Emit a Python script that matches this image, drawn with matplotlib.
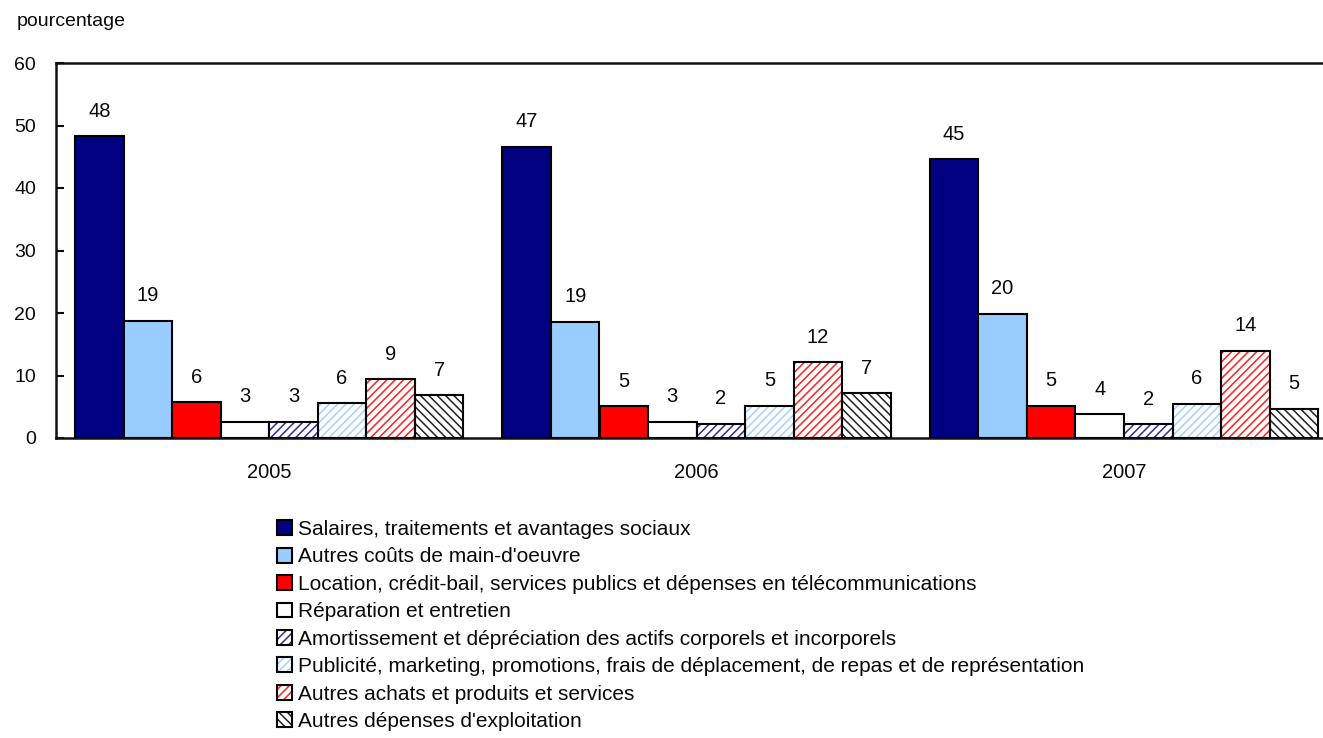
import matplotlib
matplotlib.use("Agg")
import matplotlib.pyplot as plt
from matplotlib.patches import Patch
import numpy as np

plt.rcParams['font.family'] = ['Liberation Sans', 'DejaVu Sans']
plt.rcParams['hatch.linewidth'] = 1.1

years = ["2005", "2006", "2007"]
categories = [
    "Salaires, traitements et avantages sociaux",
    "Autres coûts de main-d'oeuvre",
    "Location, crédit-bail, services publics et dépenses en télécommunications",
    "Réparation et entretien",
    "Amortissement et dépréciation des actifs corporels et incorporels",
    "Publicité, marketing, promotions, frais de déplacement, de repas et de représentation",
    "Autres achats et produits et services",
    "Autres dépenses d'exploitation",
]
values_2005 = [48.3, 18.8, 5.7, 2.6, 2.6, 5.6, 9.4, 6.9]
values_2006 = [46.6, 18.6, 5.1, 2.6, 2.3, 5.2, 12.1, 7.2]
values_2007 = [44.6, 19.9, 5.2, 3.8, 2.2, 5.5, 14.0, 4.7]

# fill colour, hatch pattern and hatch line colour per series
face_colors = ["#000080", "#99CCFF", "#FF0000", "#FFFFFF",
               "#FFFFFF", "#FFFFFF", "#FFFFFF", "#FFFFFF"]
hatches = [None, None, None, None, "////", "////", "////", "\\\\\\\\"]
hatch_colors = [None, None, None, None,
                "#2E2E96", "#A9D0FA", "#FF2020", "#222222"]

data = np.array([values_2005, values_2006, values_2007])

W, H = 1323, 738
fig = plt.figure(figsize=(W / 100, H / 100), dpi=100)
left_px, right_px, top_px, bottom_px = 55.5, 1323, 63, 438
ax = fig.add_axes([left_px / W, 1 - bottom_px / H,
                   (right_px - left_px) / W, (bottom_px - top_px) / H])

cat_px = 427.4
bar_w = 48.55 / cat_px
n = len(categories)
x = np.arange(len(years))
offsets = (np.arange(n) - (n - 1) / 2) * bar_w

fs_tick = 14
fs_text = 14.5
fs_legend = 15
ink = "#0A0A0A"
for i in range(n):
    xs = x + offsets[i]
    vals = data[:, i]
    if hatches[i] is None:
        ax.bar(xs, vals, width=bar_w, color=face_colors[i],
               edgecolor="black", linewidth=1.5, zorder=3)
    else:
        ax.bar(xs, vals, width=bar_w, color="white",
               edgecolor=hatch_colors[i], hatch=hatches[i],
               linewidth=0, zorder=3)
        ax.bar(xs, vals, width=bar_w, fill=False,
               edgecolor="black", linewidth=1.5, zorder=4)
    for xi, v in zip(xs, vals):
        ax.annotate(f"{v:.0f}", (xi, v), xytext=(0, 11), textcoords="offset points",
                    ha="center", va="bottom", fontsize=fs_text, color=ink)

ax.set_xlim(-0.5, -0.5 + (right_px - left_px) / cat_px)
ax.set_ylim(0, 60)
ax.set_yticks(np.arange(0, 61, 10))
ax.set_xticks(x)
ax.set_xticklabels(years)
ax.tick_params(axis="y", direction="in", length=6, width=1.5, pad=14,
               labelsize=fs_tick, colors=ink)
ax.tick_params(axis="x", length=0, pad=18, labelsize=fs_text, colors=ink)
for side in ["left", "top", "bottom"]:
    ax.spines[side].set_linewidth(1.8)
    ax.spines[side].set_color("#111111")
ax.spines["right"].set_visible(False)

fig.text(17 / W, 1 - 22 / H, "pourcentage", fontsize=fs_tick, va="center",
         ha="left", color=ink)

handles = []
for i in range(n):
    if hatches[i] is None:
        handles.append(Patch(facecolor=face_colors[i], edgecolor="black",
                             linewidth=1.5))
    else:
        handles.append((Patch(facecolor="white", edgecolor=hatch_colors[i],
                              hatch=hatches[i], linewidth=0),
                        Patch(fill=False, edgecolor="black", linewidth=1.5)))

fig.legend(handles, categories, loc="upper left",
           bbox_to_anchor=(277 / W, 1 - 520 / H), frameon=False,
           fontsize=fs_legend, handlelength=0.72, handleheight=0.72,
           handletextpad=0.3, labelspacing=0.405, borderpad=0,
           borderaxespad=0, labelcolor=ink)

fig.savefig("out.png", dpi=100)
